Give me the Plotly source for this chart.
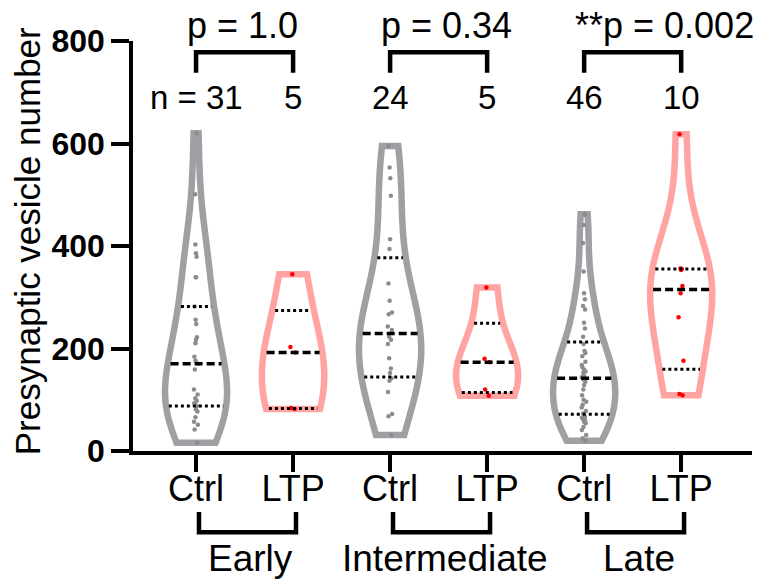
import numpy as np
import plotly.graph_objects as go

# ---------------- data ----------------
group_labels = ["Early", "Intermediate", "Late"]
tick_labels = ["Ctrl", "LTP", "Ctrl", "LTP", "Ctrl", "LTP"]
n_labels = ["n = 31", "5", "24", "5", "46", "10"]
p_labels = ["p = 1.0", "p = 0.34", "**p = 0.002"]
y_ticks = [0, 200, 400, 600, 800]

early_ctrl = [620, 501, 403, 386, 379, 339, 339, 282, 256, 248, 222, 217, 210, 184, 176,
              170, 159, 120, 110, 103, 98, 93, 90, 88, 81, 77, 66, 57, 51, 42, 16]
early_ltp = [345, 203, 192, 84, 82]
inter_ctrl = [595, 553, 532, 498, 413, 394, 327, 293, 270, 267, 243, 236, 223, 217, 209,
              181, 161, 152, 142, 137, 115, 72, 68, 31]
inter_ltp = [319, 180, 173, 120, 108]
late_ctrl = [462, 441, 406, 350, 308, 296, 283, 276, 250, 239, 223, 209, 195, 191, 185,
             174, 168, 164, 159, 155, 152, 146, 144, 140, 139, 135, 129, 120, 109, 100, 96,
             90, 85, 78, 73, 67, 65, 62, 60, 57, 54, 47, 41, 31, 25, 20]
late_ltp = [618, 356, 355, 353, 322, 308, 261, 176, 111, 109]

series = [early_ctrl, early_ltp, inter_ctrl, inter_ltp, late_ctrl, late_ltp]

# ---------------- styles ----------------
FONT = "Arial, Liberation Sans, sans-serif"
outline_colors = ["#a0a0a4", "#ffa3a3"] * 3
point_colors = ["#8c8c8c", "#ff0000"] * 3
VIOLIN_W = 0.64
positions = list(range(len(series)))


def bandwidth(v):
    v = np.asarray(v, float)
    return 1.06 * v.std(ddof=1) * len(v) ** -0.2


def kde(v, bw, x):
    v = np.asarray(v, float)
    x = np.atleast_1d(np.asarray(x, float))
    z = (x[:, None] - v[None, :]) / bw
    return np.exp(-0.5 * z * z).sum(1) / (len(v) * bw * np.sqrt(2 * np.pi))


fig = go.Figure()

for i, vals in enumerate(series):
    pos = positions[i]
    bw = bandwidth(vals)
    fig.add_trace(go.Violin(
        x=[pos] * len(vals), y=vals, orientation="v",
        width=VIOLIN_W, bandwidth=bw, spanmode="hard",
        scalegroup=f"g{i}", scalemode="width",
        line=dict(color=outline_colors[i], width=6.5),
        fillcolor="rgba(255,255,255,0)",
        points="all", pointpos=0, jitter=0.1,
        marker=dict(color=point_colors[i], size=4.5, line=dict(width=0)),
        box_visible=False, meanline_visible=False,
        hoverinfo="y", showlegend=False,
    ))

# quartile (dotted) and median (dashed) lines, width taken from the same KDE
for i, vals in enumerate(series):
    pos = positions[i]
    bw = bandwidth(vals)
    lo, hi = min(vals), max(vals)
    ngrid = int(np.ceil((hi - lo) / (bw / 3)))
    grid = np.linspace(lo, hi, ngrid + 1)
    maxk = kde(vals, bw, grid).max()
    q1, med, q3 = np.percentile(vals, [25, 50, 75], method="weibull")
    for q, dash, lw in [(q1, "3px,3px", 3), (q3, "3px,3px", 3), (med, "8px,4px", 3.5)]:
        half = VIOLIN_W / 2 * kde(vals, bw, q)[0] / maxk - 0.03
        fig.add_trace(go.Scatter(
            x=[pos - half, pos + half], y=[q, q], mode="lines",
            line=dict(color="black", width=lw, dash=dash),
            hoverinfo="skip", showlegend=False,
        ))

shapes = []
annotations = []
for g in range(3):
    a, b = positions[2 * g], positions[2 * g + 1]
    # top significance bracket
    shapes.append(dict(type="path", xref="x", yref="y",
                       path=f"M {a},738 L {a},778 L {b},778 L {b},738",
                       line=dict(color="black", width=4.5)))
    # bottom group bracket
    shapes.append(dict(type="path", xref="x", yref="paper",
                       path=f"M {a+0.03},-0.149 L {a+0.03},-0.198 L {b+0.03},-0.198 L {b+0.03},-0.149",
                       line=dict(color="black", width=4.5)))
    annotations.append(dict(x=a, y=1.037, xref="x", yref="paper", text=p_labels[g],
                            showarrow=False, xanchor="left", yanchor="middle", xshift=-11,
                            font=dict(family=FONT, size=36, color="black")))
    annotations.append(dict(x=(a + b) / 2, y=-0.262, xref="x", yref="paper",
                            text=group_labels[g], showarrow=False, xshift=6,
                            xanchor="center", yanchor="middle",
                            font=dict(family=FONT, size=37, color="black")))

for i, t in enumerate(n_labels):
    annotations.append(dict(x=positions[i], y=689, xref="x", yref="y", text=t,
                            showarrow=False, xanchor="center", yanchor="middle",
                            font=dict(family=FONT, size=33, color="black")))

annotations.append(dict(x=-0.171, y=0.512, xref="paper", yref="paper",
                        text="Presynaptic vesicle number", textangle=-90,
                        showarrow=False, xanchor="center", yanchor="middle",
                        font=dict(family=FONT, size=35, color="black")))

fig.update_layout(
    width=768, height=580,
    margin=dict(l=133, r=16, t=41, b=129, autoexpand=False),
    plot_bgcolor="white", paper_bgcolor="white",
    violinmode="overlay",
    shapes=shapes, annotations=annotations,
    showlegend=False,
)
fig.update_xaxes(
    range=[-0.65, 5.73], tickmode="array", tickvals=positions, ticktext=tick_labels,
    ticks="outside", ticklen=17, tickwidth=3.5, tickcolor="black",
    ticklabelstandoff=-14,
    showline=True, linewidth=3.5, linecolor="black",
    showgrid=False, zeroline=False,
    tickfont=dict(family=FONT, size=36, color="black"),
)
fig.update_yaxes(
    range=[0, 800], tickmode="array", tickvals=y_ticks,
    ticks="outside", ticklen=18, tickwidth=3.5, tickcolor="black",
    showline=True, linewidth=3.5, linecolor="black",
    showgrid=False, zeroline=False,
    tickfont=dict(family=FONT, size=32, color="black", weight="bold"),
)

fig.write_html("out.html", config={"displayModeBar": False},
               post_script="document.body.style.margin='0';")
